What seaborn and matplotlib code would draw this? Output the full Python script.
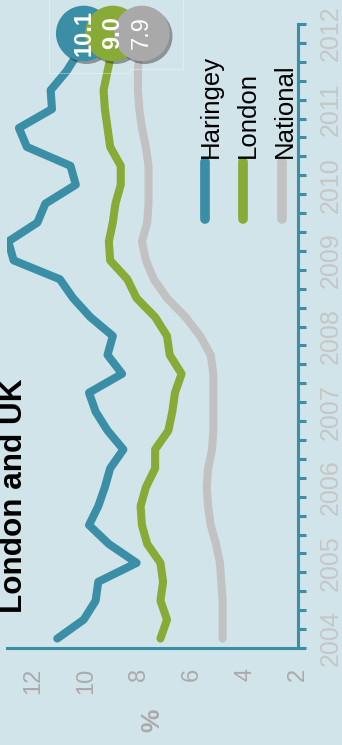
import numpy as np
import pandas as pd
import matplotlib
matplotlib.use("Agg")
import matplotlib.pyplot as plt
import matplotlib.patheffects as pe
from matplotlib.lines import Line2D
import seaborn as sns

# Quarterly unemployment rates (%), Q1 2004 .. Q1 2012
haringey = [11.1, 10.1, 9.65, 9.55, 8.1, 9.15, 9.9, 9.55, 9.3, 9.1, 8.6,
            9.2, 9.65, 9.9, 8.65, 9.2, 9.0, 9.85, 10.5, 11.0, 12.75, 12.95,
            11.85, 11.55, 10.4, 10.6, 12.25, 12.55, 11.3, 11.35, 10.75, 10.3, 10.1]
london = [7.2, 6.95, 7.2, 7.1, 7.2, 7.7, 7.9, 7.95, 7.75, 7.4, 7.4,
          6.9, 6.75, 6.65, 6.4, 6.85, 6.95, 7.4, 8.1, 8.45, 9.1, 9.15,
          9.0, 8.9, 8.7, 8.7, 9.1, 9.2, 9.3, 9.35, 9.2, 9.05, 9.0]
national = [4.85, 4.85, 4.85, 4.9, 4.95, 5.1, 5.3, 5.4, 5.45, 5.4, 5.25,
            5.2, 5.2, 5.2, 5.2, 5.3, 5.7, 6.25, 6.95, 7.45, 7.75, 7.9,
            7.7, 7.65, 7.65, 7.65, 7.75, 7.9, 8.0, 8.05, 8.05, 8.0, 7.9]
areas = ["Haringey", "London", "National"]
end_labels = ["10.1", "9.0", "7.9"]
year_labels = ["2004", "2005", "2006", "2007", "2008", "2009", "2010", "2011", "2012"]
rate_ticks = [12, 10, 8, 6, 4, 2]

BG = "#d1e4e9"
TEAL = "#3a8fa7"
line_colors = {"Haringey": TEAL, "London": "#87ab36", "National": "#c2c2c2"}
dot_colors = {"Haringey": TEAL, "London": "#87ab36", "National": "#a9a9a9"}

sns.set_style("white")
plt.rcParams["font.family"] = ["Liberation Sans", "DejaVu Sans"]

n = len(haringey)
df = pd.DataFrame({
    "quarter": np.tile(np.arange(n), 3),
    "rate": haringey + london + national,
    "area": np.repeat(areas, n),
})
last = df[df["quarter"] == n - 1]

W, H = 342, 745
fig = plt.figure(figsize=(W / 100, H / 100), dpi=100, facecolor=BG)
ax = fig.add_axes([7 / W, 97 / H, 291 / W, 624 / H], facecolor=BG)

sns.lineplot(data=df, x="rate", y="quarter", hue="area", orient="y",
             palette=line_colors, linewidth=5.8, legend=False, ax=ax,
             solid_joinstyle="round", solid_capstyle="round", zorder=3)

sns.scatterplot(data=last, x="rate", y="quarter", hue="area",
                palette=dot_colors, s=40 ** 2, linewidth=0, legend=False,
                ax=ax, zorder=5, clip_on=False,
                path_effects=[pe.SimplePatchShadow(offset=(2, -2),
                                                   shadow_rgbFace="black",
                                                   alpha=0.35),
                              pe.Normal()])

for (_, row), txt, w in zip(last.iterrows(), end_labels, ["bold", "bold", "normal"]):
    ax.text(row["rate"], row["quarter"] + 0.05, txt, rotation=90, ha="center",
            va="center", color="white", fontsize=17, weight=w, zorder=6)

ax.set_xlim(13, 2)
ax.set_ylim(-0.5, n - 0.5)

for s in ["left", "top"]:
    ax.spines[s].set_visible(False)
for s in ["bottom", "right"]:
    ax.spines[s].set_color(TEAL)
    ax.spines[s].set_linewidth(2.2)

ax.set_xticks(rate_ticks)
ax.set_xticklabels([str(t) for t in rate_ticks], rotation=90)
ax.tick_params(axis="x", direction="out", length=5, width=2.2, color=TEAL,
               labelcolor="#aaaaaa", labelsize=17, pad=9)

ax.yaxis.tick_right()
ax.set_yticks(np.arange(0, n, 4))
ax.set_yticklabels(year_labels, rotation=90, va="center")
ax.set_yticks(np.arange(-0.5, n, 1), minor=True)
ax.tick_params(axis="y", which="major", length=0, labelcolor="#c6c6c6",
               labelsize=18, pad=15)
ax.tick_params(axis="y", which="minor", direction="out", length=6, width=2.2,
               color=TEAL)
ax.set_ylabel("")
ax.set_xlabel("%", rotation=90, color="#aaaaaa", fontsize=19, weight="bold",
              labelpad=11)


def fx(px):
    return px / W


def fy(py):
    return (H - py) / H


# Title (second line of the heading)
fig.text(fx(22), fy(613), "London and UK", rotation=90, rotation_mode="anchor",
         ha="left", va="baseline", fontsize=22.7, weight="bold", color="black")

# Legend: short vertical swatches with rotated names
for area, hx, tx in zip(areas, [205, 243, 282], [218, 255, 292]):
    fig.add_artist(Line2D([fx(hx), fx(hx)], [fy(162), fy(219)],
                          color=line_colors[area], linewidth=7,
                          solid_capstyle="round"))
    fig.text(fx(tx), fy(158), area, rotation=90, rotation_mode="anchor",
             ha="left", va="baseline", fontsize=18.5, color="black")

# Faint frame behind the end-value badges
fig.add_artist(Line2D([fx(49), fx(49), fx(130), fx(130), fx(183), fx(183)],
                      [fy(0), fy(73), fy(73), fy(69), fy(69), fy(0)],
                      color="white", alpha=0.35, linewidth=0.8))

fig.savefig("out.png", dpi=100, facecolor=BG)
